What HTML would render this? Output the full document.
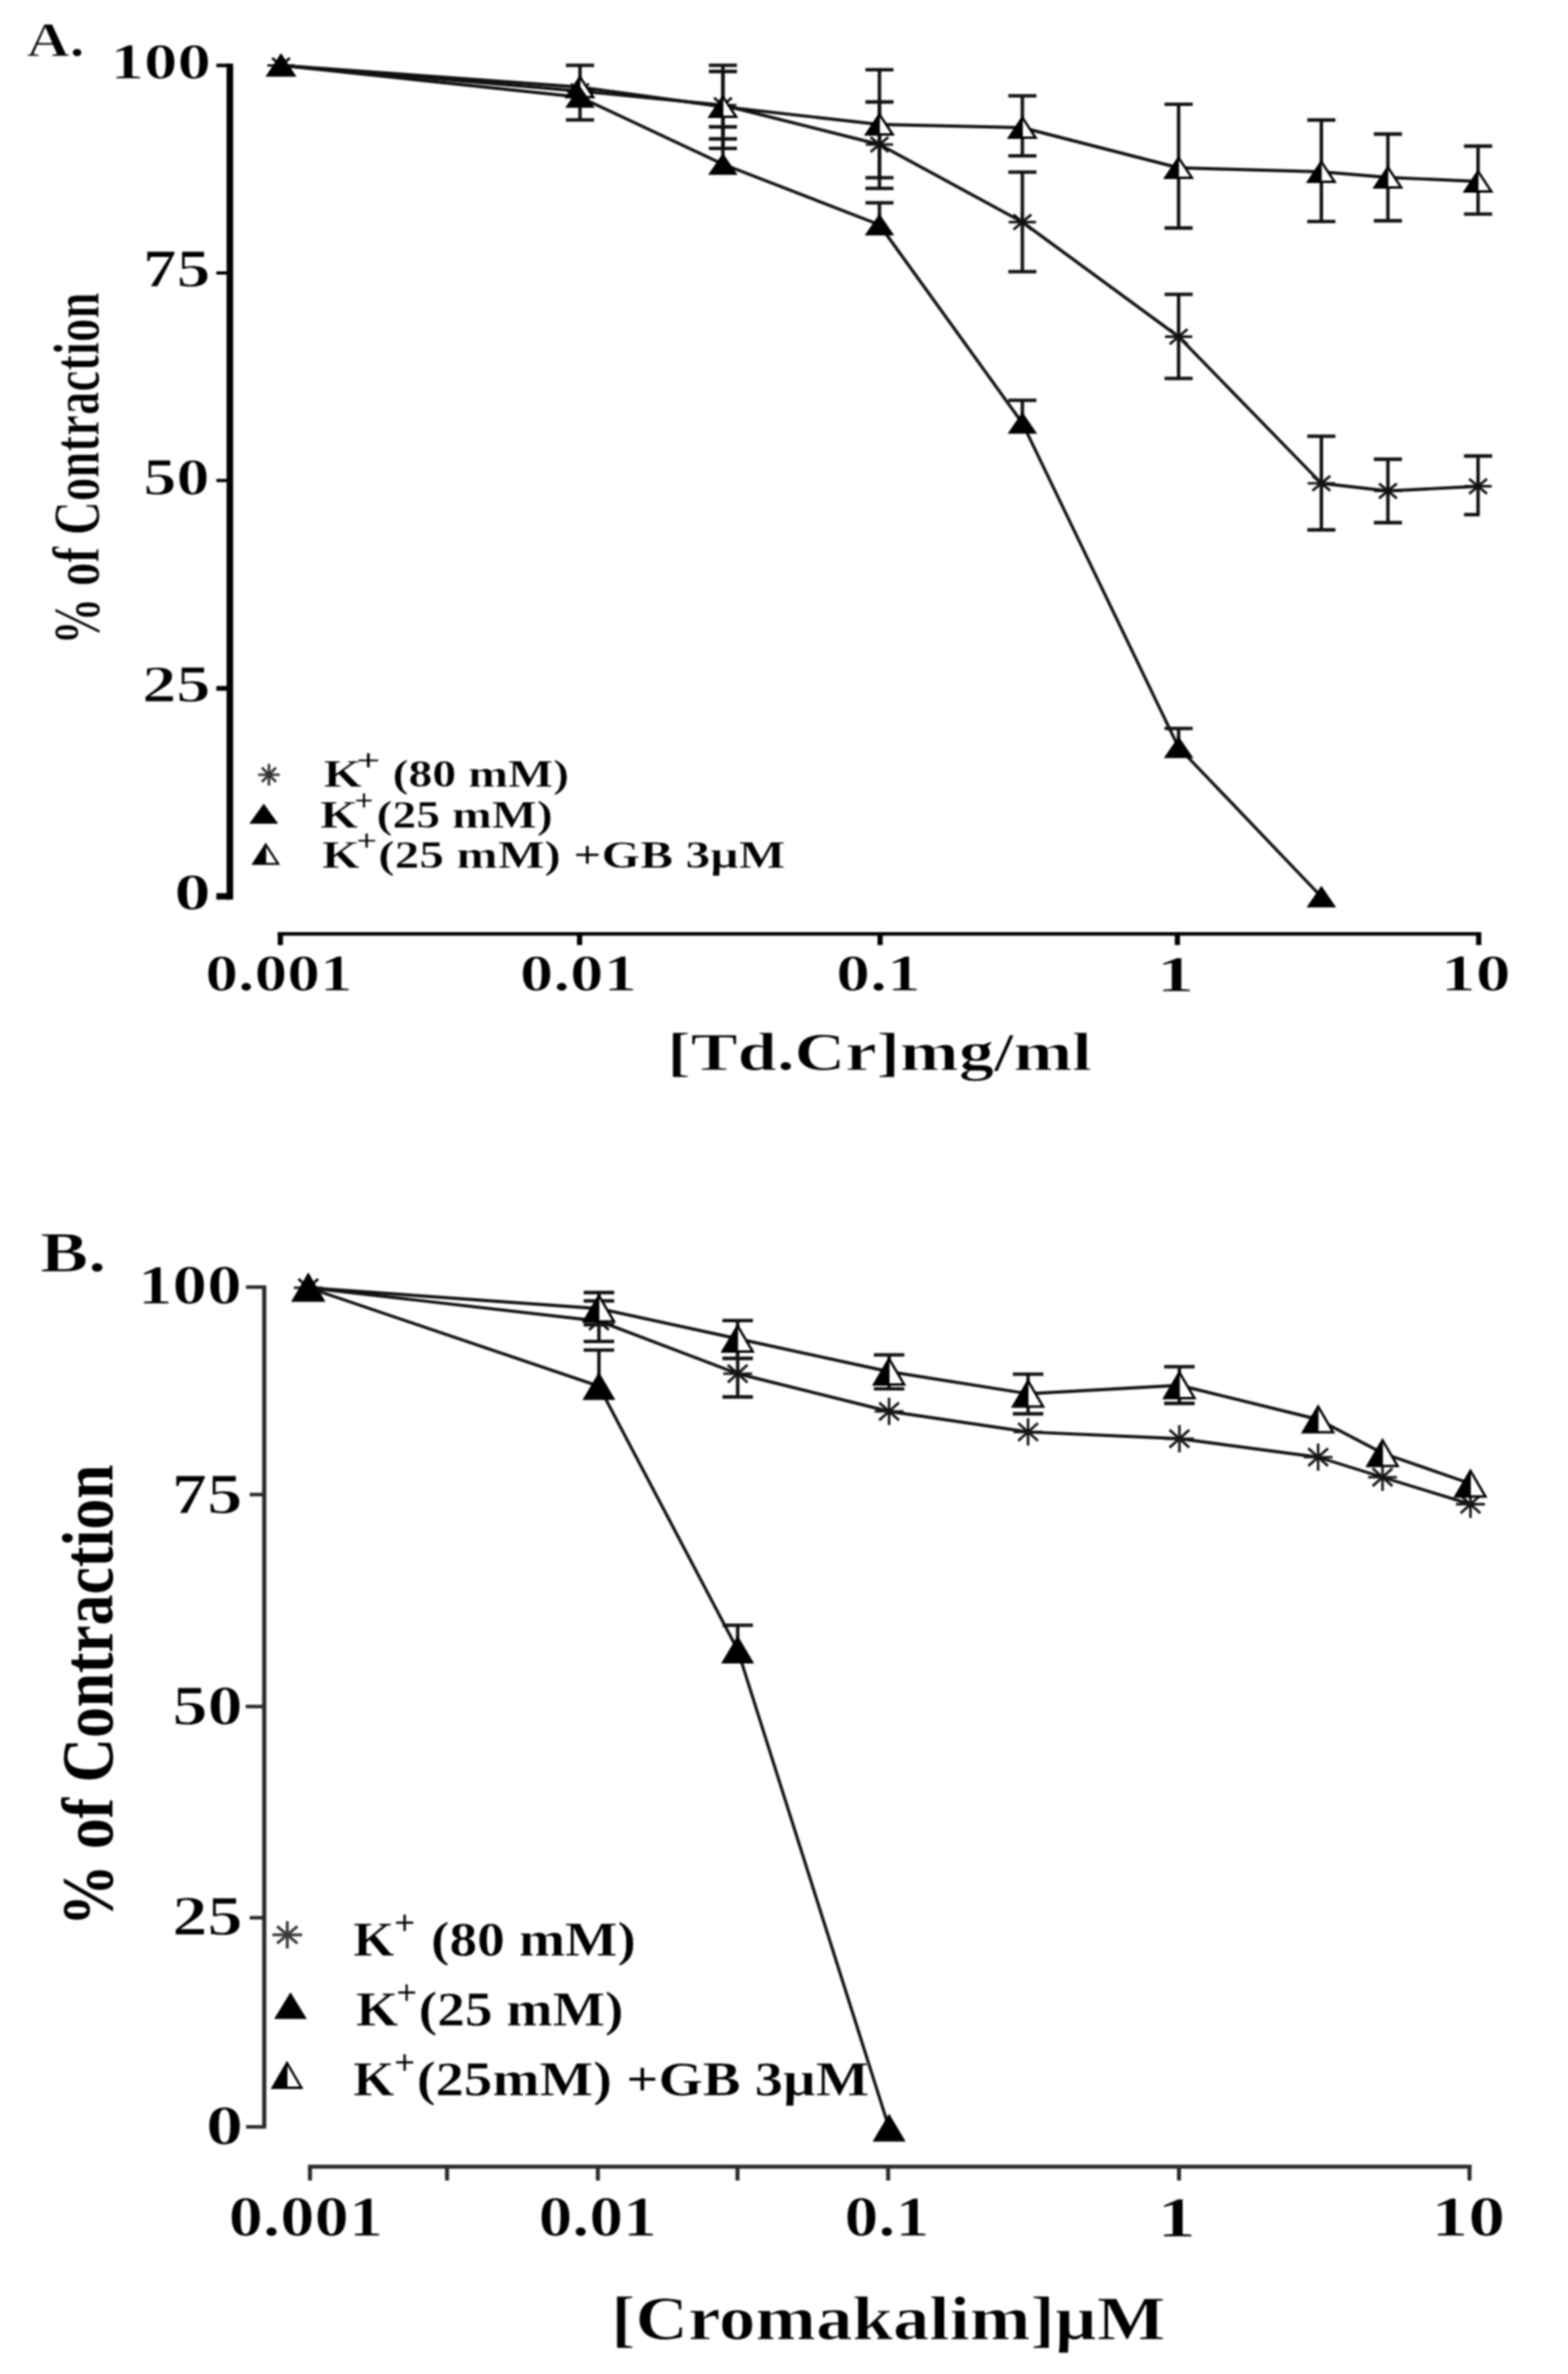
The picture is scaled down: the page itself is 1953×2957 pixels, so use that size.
<!DOCTYPE html>
<html lang="en"><head><meta charset="utf-8"><title>Figure</title>
<style>html,body{margin:0;padding:0;background:#fff}svg{display:block;filter:blur(0.9px)}</style></head>
<body>
<svg width="1953" height="2957" viewBox="0 0 1953 2957" font-family="'Liberation Serif', serif">
<rect width="1953" height="2957" fill="#fff"/>
<g id="chartA">
<path d="M286.3,79.3V1120.5" stroke="#000" stroke-width="8.2" fill="none"/>
<path d="M269.5,81.5H286" stroke="#000" stroke-width="4.4" fill="none"/>
<path d="M269.5,340H286" stroke="#000" stroke-width="4" fill="none"/>
<path d="M269.5,598.5H286" stroke="#000" stroke-width="4" fill="none"/>
<path d="M269.5,857.4H286" stroke="#000" stroke-width="6" fill="none"/>
<path d="M269.5,1116.5H286" stroke="#000" stroke-width="8" fill="none"/>
<path d="M345.8,1163.2H1845" stroke="#000" stroke-width="4.6" fill="none"/>
<path d="M349.2,1163V1177.2" stroke="#000" stroke-width="6.5" fill="none"/>
<path d="M721.9,1163V1177.2" stroke="#000" stroke-width="6.5" fill="none"/>
<path d="M1096.2,1163V1177.2" stroke="#000" stroke-width="6.5" fill="none"/>
<path d="M1466.5,1163V1177.2" stroke="#000" stroke-width="6.5" fill="none"/>
<path d="M1841.8,1163V1177.2" stroke="#000" stroke-width="6.5" fill="none"/>
<text x="137.4" y="97.9" font-size="63.7" font-weight="bold" text-anchor="start" fill="#000" stroke="#fff" stroke-width="1.0" textLength="125.4" lengthAdjust="spacingAndGlyphs">100</text>
<text x="178.0" y="357.4" font-size="66.8" font-weight="bold" text-anchor="start" fill="#000" stroke="#fff" stroke-width="1.0" textLength="84.1" lengthAdjust="spacingAndGlyphs">75</text>
<text x="178.5" y="615.5" font-size="65.9" font-weight="bold" text-anchor="start" fill="#000" stroke="#fff" stroke-width="1.0" textLength="82.5" lengthAdjust="spacingAndGlyphs">50</text>
<text x="176.9" y="874.4" font-size="66.5" font-weight="bold" text-anchor="start" fill="#000" stroke="#fff" stroke-width="1.0" textLength="85.4" lengthAdjust="spacingAndGlyphs">25</text>
<text x="217.1" y="1132.9" font-size="64.8" font-weight="bold" text-anchor="start" fill="#000" stroke="#fff" stroke-width="1.0" textLength="45.6" lengthAdjust="spacingAndGlyphs">0</text>
<text x="255.7" y="1233.9" font-size="64.7" font-weight="bold" text-anchor="start" fill="#000" stroke="#fff" stroke-width="1.0" textLength="183.7" lengthAdjust="spacingAndGlyphs">0.001</text>
<text x="647.6" y="1233.9" font-size="64.7" font-weight="bold" text-anchor="start" fill="#000" stroke="#fff" stroke-width="1.0" textLength="145.8" lengthAdjust="spacingAndGlyphs">0.01</text>
<text x="1041.6" y="1233.9" font-size="64.7" font-weight="bold" text-anchor="start" fill="#000" stroke="#fff" stroke-width="1.0" textLength="105.3" lengthAdjust="spacingAndGlyphs">0.1</text>
<text x="1440.2" y="1235.1" font-size="63.6" font-weight="bold" text-anchor="start" fill="#000" stroke="#fff" stroke-width="1.0" textLength="47.7" lengthAdjust="spacingAndGlyphs">1</text>
<text x="1794.4" y="1233.9" font-size="64.7" font-weight="bold" text-anchor="start" fill="#000" stroke="#fff" stroke-width="1.0" textLength="87.3" lengthAdjust="spacingAndGlyphs">10</text>
<text x="831.1" y="1333.0" font-size="68.0" font-weight="bold" text-anchor="start" fill="#000" stroke="#fff" stroke-width="1.0" textLength="528.8" lengthAdjust="spacingAndGlyphs">[Td.Cr]mg/ml</text>
<text x="33.2" y="70.4" font-size="61.9" font-weight="bold" text-anchor="start" fill="#000" stroke="#fff" stroke-width="1.0" textLength="72.0" lengthAdjust="spacingAndGlyphs">A.</text>
<text transform="translate(122.8,803.1) rotate(-90)" font-size="82.1" font-weight="bold" stroke="#fff" stroke-width="1.0" textLength="438.8" lengthAdjust="spacingAndGlyphs">% of Contraction</text>
<path d="M350.0,81.5L722.4,113.5L900.4,131.0L1095.4,180.0L1273.4,276.6L1468.0,419.4L1645.8,602.0L1728.7,611.5L1841.0,605.7" stroke="#111" stroke-width="3.9" fill="none" stroke-linejoin="round"/>
<path d="M350.0,81.5L722.4,108.5L900.4,133.0L1095.4,155.0L1273.4,159.0L1468.0,209.0L1645.8,214.0L1728.7,221.0L1841.0,226.0" stroke="#111" stroke-width="3.9" fill="none" stroke-linejoin="round"/>
<path d="M350.0,81.5L722.4,121.0L900.4,204.5L1095.4,280.0L1273.4,527.0L1468.0,931.0L1645.8,1117.0" stroke="#111" stroke-width="3.9" fill="none" stroke-linejoin="round"/>
<path d="M722.4,81.4V149.3" stroke="#111" stroke-width="4.3" fill="none"/>
<path d="M704.9,81.4H739.9" stroke="#111" stroke-width="4.3" fill="none"/>
<path d="M704.9,149.3H739.9" stroke="#111" stroke-width="4.3" fill="none"/>
<path d="M900.4,89.0V173.0" stroke="#111" stroke-width="4.3" fill="none"/>
<path d="M882.9,89.0H917.9" stroke="#111" stroke-width="4.3" fill="none"/>
<path d="M882.9,173.0H917.9" stroke="#111" stroke-width="4.3" fill="none"/>
<path d="M1095.4,127.0V234.7" stroke="#111" stroke-width="4.3" fill="none"/>
<path d="M1077.9,127.0H1112.9" stroke="#111" stroke-width="4.3" fill="none"/>
<path d="M1077.9,234.7H1112.9" stroke="#111" stroke-width="4.3" fill="none"/>
<path d="M1273.4,214.4V338.4" stroke="#111" stroke-width="4.3" fill="none"/>
<path d="M1255.9,214.4H1290.9" stroke="#111" stroke-width="4.3" fill="none"/>
<path d="M1255.9,338.4H1290.9" stroke="#111" stroke-width="4.3" fill="none"/>
<path d="M1468.0,366.6V471.3" stroke="#111" stroke-width="4.3" fill="none"/>
<path d="M1450.5,366.6H1485.5" stroke="#111" stroke-width="4.3" fill="none"/>
<path d="M1450.5,471.3H1485.5" stroke="#111" stroke-width="4.3" fill="none"/>
<path d="M1645.8,543.3V660.0" stroke="#111" stroke-width="4.3" fill="none"/>
<path d="M1628.3,543.3H1663.3" stroke="#111" stroke-width="4.3" fill="none"/>
<path d="M1628.3,660.0H1663.3" stroke="#111" stroke-width="4.3" fill="none"/>
<path d="M1728.7,572.0V651.0" stroke="#111" stroke-width="4.3" fill="none"/>
<path d="M1711.2,572.0H1746.2" stroke="#111" stroke-width="4.3" fill="none"/>
<path d="M1711.2,651.0H1746.2" stroke="#111" stroke-width="4.3" fill="none"/>
<path d="M1841.0,568.0V641.0" stroke="#111" stroke-width="4.3" fill="none"/>
<path d="M1823.5,568.0H1858.5" stroke="#111" stroke-width="4.3" fill="none"/>
<path d="M1823.5,641.0H1843.0" stroke="#111" stroke-width="4.3" fill="none"/>
<path d="M900.4,81.4V184.9" stroke="#111" stroke-width="4.3" fill="none"/>
<path d="M882.9,81.4H917.9" stroke="#111" stroke-width="4.3" fill="none"/>
<path d="M882.9,184.9H917.9" stroke="#111" stroke-width="4.3" fill="none"/>
<path d="M1095.4,86.9V221.3" stroke="#111" stroke-width="4.3" fill="none"/>
<path d="M1077.9,86.9H1112.9" stroke="#111" stroke-width="4.3" fill="none"/>
<path d="M1077.9,221.3H1112.9" stroke="#111" stroke-width="4.3" fill="none"/>
<path d="M1273.4,119.4V194.2" stroke="#111" stroke-width="4.3" fill="none"/>
<path d="M1255.9,119.4H1290.9" stroke="#111" stroke-width="4.3" fill="none"/>
<path d="M1255.9,194.2H1290.9" stroke="#111" stroke-width="4.3" fill="none"/>
<path d="M1468.0,129.8V284.0" stroke="#111" stroke-width="4.3" fill="none"/>
<path d="M1450.5,129.8H1485.5" stroke="#111" stroke-width="4.3" fill="none"/>
<path d="M1450.5,284.0H1485.5" stroke="#111" stroke-width="4.3" fill="none"/>
<path d="M1645.8,149.5V275.8" stroke="#111" stroke-width="4.3" fill="none"/>
<path d="M1628.3,149.5H1663.3" stroke="#111" stroke-width="4.3" fill="none"/>
<path d="M1628.3,275.8H1663.3" stroke="#111" stroke-width="4.3" fill="none"/>
<path d="M1728.7,167.0V275.0" stroke="#111" stroke-width="4.3" fill="none"/>
<path d="M1711.2,167.0H1746.2" stroke="#111" stroke-width="4.3" fill="none"/>
<path d="M1711.2,275.0H1746.2" stroke="#111" stroke-width="4.3" fill="none"/>
<path d="M1841.0,182.0V266.7" stroke="#111" stroke-width="4.3" fill="none"/>
<path d="M1823.5,182.0H1858.5" stroke="#111" stroke-width="4.3" fill="none"/>
<path d="M1823.5,266.7H1858.5" stroke="#111" stroke-width="4.3" fill="none"/>
<path d="M900.4,158.0V204.5" stroke="#111" stroke-width="4.3" fill="none"/>
<path d="M882.9,158.0H917.9" stroke="#111" stroke-width="4.3" fill="none"/>
<path d="M1095.4,252.7V280.0" stroke="#111" stroke-width="4.3" fill="none"/>
<path d="M1077.9,252.7H1112.9" stroke="#111" stroke-width="4.3" fill="none"/>
<path d="M1273.4,498.6V527.0" stroke="#111" stroke-width="4.3" fill="none"/>
<path d="M1255.9,498.6H1290.9" stroke="#111" stroke-width="4.3" fill="none"/>
<path d="M1468.0,907.4V931.0" stroke="#111" stroke-width="4.3" fill="none"/>
<path d="M1450.5,907.4H1485.5" stroke="#111" stroke-width="4.3" fill="none"/>
<path d="M333.0,81.5H367.0M350.0,68.0V95.0M338.9,72.2L361.1,90.8M338.9,90.8L361.1,72.2" stroke="#111" stroke-width="3.2" fill="none"/>
<path d="M705.4,113.5H739.4M722.4,100.0V127.0M711.3,104.2L733.5,122.8M711.3,122.8L733.5,104.2" stroke="#111" stroke-width="3.2" fill="none"/>
<path d="M883.4,131.0H917.4M900.4,117.5V144.5M889.3,121.7L911.5,140.3M889.3,140.3L911.5,121.7" stroke="#111" stroke-width="3.2" fill="none"/>
<path d="M1078.4,180.0H1112.4M1095.4,166.5V193.5M1084.3,170.7L1106.5,189.3M1084.3,189.3L1106.5,170.7" stroke="#111" stroke-width="3.2" fill="none"/>
<path d="M1256.4,276.6H1290.4M1273.4,263.1V290.1M1262.3,267.3L1284.5,285.9M1262.3,285.9L1284.5,267.3" stroke="#111" stroke-width="3.2" fill="none"/>
<path d="M1451.0,419.4H1485.0M1468.0,405.9V432.9M1456.9,410.1L1479.1,428.7M1456.9,428.7L1479.1,410.1" stroke="#111" stroke-width="3.2" fill="none"/>
<path d="M1628.8,602.0H1662.8M1645.8,588.5V615.5M1634.7,592.7L1656.9,611.3M1634.7,611.3L1656.9,592.7" stroke="#111" stroke-width="3.2" fill="none"/>
<path d="M1711.7,611.5H1745.7M1728.7,598.0V625.0M1717.6,602.2L1739.8,620.8M1717.6,620.8L1739.8,602.2" stroke="#111" stroke-width="3.2" fill="none"/>
<path d="M1824.0,605.7H1858.0M1841.0,592.2V619.2M1829.9,596.4L1852.1,615.0M1829.9,615.0L1852.1,596.4" stroke="#111" stroke-width="3.2" fill="none"/>
<polygon points="333.5,94.0 366.5,94.0 350.0,69.0" fill="#fff" stroke="#000" stroke-width="3.0" stroke-linejoin="miter"/>
<polygon points="333.5,94.0 350.0,94.0 350.0,69.0" fill="#000" stroke="#000" stroke-width="1"/>
<polygon points="705.9,121.0 738.9,121.0 722.4,96.0" fill="#fff" stroke="#000" stroke-width="3.0" stroke-linejoin="miter"/>
<polygon points="705.9,121.0 722.4,121.0 722.4,96.0" fill="#000" stroke="#000" stroke-width="1"/>
<polygon points="883.9,145.5 916.9,145.5 900.4,120.5" fill="#fff" stroke="#000" stroke-width="3.0" stroke-linejoin="miter"/>
<polygon points="883.9,145.5 900.4,145.5 900.4,120.5" fill="#000" stroke="#000" stroke-width="1"/>
<polygon points="1078.9,167.5 1111.9,167.5 1095.4,142.5" fill="#fff" stroke="#000" stroke-width="3.0" stroke-linejoin="miter"/>
<polygon points="1078.9,167.5 1095.4,167.5 1095.4,142.5" fill="#000" stroke="#000" stroke-width="1"/>
<polygon points="1256.9,171.5 1289.9,171.5 1273.4,146.5" fill="#fff" stroke="#000" stroke-width="3.0" stroke-linejoin="miter"/>
<polygon points="1256.9,171.5 1273.4,171.5 1273.4,146.5" fill="#000" stroke="#000" stroke-width="1"/>
<polygon points="1451.5,221.5 1484.5,221.5 1468.0,196.5" fill="#fff" stroke="#000" stroke-width="3.0" stroke-linejoin="miter"/>
<polygon points="1451.5,221.5 1468.0,221.5 1468.0,196.5" fill="#000" stroke="#000" stroke-width="1"/>
<polygon points="1629.3,226.5 1662.3,226.5 1645.8,201.5" fill="#fff" stroke="#000" stroke-width="3.0" stroke-linejoin="miter"/>
<polygon points="1629.3,226.5 1645.8,226.5 1645.8,201.5" fill="#000" stroke="#000" stroke-width="1"/>
<polygon points="1712.2,233.5 1745.2,233.5 1728.7,208.5" fill="#fff" stroke="#000" stroke-width="3.0" stroke-linejoin="miter"/>
<polygon points="1712.2,233.5 1728.7,233.5 1728.7,208.5" fill="#000" stroke="#000" stroke-width="1"/>
<polygon points="1824.5,238.5 1857.5,238.5 1841.0,213.5" fill="#fff" stroke="#000" stroke-width="3.0" stroke-linejoin="miter"/>
<polygon points="1824.5,238.5 1841.0,238.5 1841.0,213.5" fill="#000" stroke="#000" stroke-width="1"/>
<polygon points="333.0,94.0 367.0,94.0 350.0,69.0" fill="#000" stroke="#000" stroke-width="1.5" stroke-linejoin="miter"/>
<polygon points="705.4,133.5 739.4,133.5 722.4,108.5" fill="#000" stroke="#000" stroke-width="1.5" stroke-linejoin="miter"/>
<polygon points="883.4,217.0 917.4,217.0 900.4,192.0" fill="#000" stroke="#000" stroke-width="1.5" stroke-linejoin="miter"/>
<polygon points="1078.4,292.5 1112.4,292.5 1095.4,267.5" fill="#000" stroke="#000" stroke-width="1.5" stroke-linejoin="miter"/>
<polygon points="1256.4,539.5 1290.4,539.5 1273.4,514.5" fill="#000" stroke="#000" stroke-width="1.5" stroke-linejoin="miter"/>
<polygon points="1451.0,943.5 1485.0,943.5 1468.0,918.5" fill="#000" stroke="#000" stroke-width="1.5" stroke-linejoin="miter"/>
<polygon points="1628.8,1129.5 1662.8,1129.5 1645.8,1104.5" fill="#000" stroke="#000" stroke-width="1.5" stroke-linejoin="miter"/>
<path d="M321.5,965.0H348.5M335.0,951.5V978.5M326.2,956.2L343.8,973.8M326.2,973.8L343.8,956.2" stroke="#333" stroke-width="3.2" fill="none"/>
<polygon points="312.0,1025.2 345.0,1025.2 328.5,1002.2" fill="#000" stroke="#000" stroke-width="1.5" stroke-linejoin="miter"/>
<polygon points="315.5,1076.0 346.5,1076.0 331.0,1052.0" fill="#fff" stroke="#000" stroke-width="2.6" stroke-linejoin="miter"/>
<polygon points="315.5,1076.0 331.0,1076.0 331.0,1052.0" fill="#000" stroke="#000" stroke-width="1"/>
<text font-weight="bold" font-size="49" stroke="#fff" stroke-width="0.5"><tspan x="403.0" y="980" textLength="47.7" lengthAdjust="spacingAndGlyphs">K</tspan><tspan x="444.5" y="958.5" font-size="36" font-weight="normal" stroke="#000" stroke-width="0.6" textLength="28.5" lengthAdjust="spacingAndGlyphs">+</tspan><tspan x="489.0" y="980" textLength="219.8" lengthAdjust="spacingAndGlyphs">(80 mM)</tspan></text>
<text font-weight="bold" font-size="49" stroke="#fff" stroke-width="0.5"><tspan x="398.7" y="1030.5" textLength="47.3" lengthAdjust="spacingAndGlyphs">K</tspan><tspan x="442.0" y="1008.5" font-size="36" font-weight="normal" stroke="#000" stroke-width="0.6" textLength="22.5" lengthAdjust="spacingAndGlyphs">+</tspan><tspan x="468.9" y="1030.5" textLength="219.6" lengthAdjust="spacingAndGlyphs">(25 mM)</tspan></text>
<text font-weight="bold" font-size="49" stroke="#fff" stroke-width="0.5"><tspan x="401.0" y="1080.5" textLength="47.0" lengthAdjust="spacingAndGlyphs">K</tspan><tspan x="444.5" y="1058.5" font-size="36" font-weight="normal" stroke="#000" stroke-width="0.6" textLength="24.5" lengthAdjust="spacingAndGlyphs">+</tspan><tspan x="471.0" y="1080.5" textLength="507.2" lengthAdjust="spacingAndGlyphs">(25 mM) +GB 3µM</tspan></text>
</g>
<g id="chartB">
<path d="M329.1,1601V2651.3" stroke="#2a2a2a" stroke-width="5.2" fill="none"/>
<path d="M306.4,1603.2H329" stroke="#2a2a2a" stroke-width="4.4" fill="none"/>
<path d="M311,1861.6H329" stroke="#2a2a2a" stroke-width="4.4" fill="none"/>
<path d="M306,2125.6H329" stroke="#2a2a2a" stroke-width="4.4" fill="none"/>
<path d="M311,2388.7H329" stroke="#2a2a2a" stroke-width="4.4" fill="none"/>
<path d="M306.5,2649.2H329" stroke="#2a2a2a" stroke-width="4.4" fill="none"/>
<path d="M383.7,2698.7H1833" stroke="#2a2a2a" stroke-width="5" fill="none"/>
<path d="M386.1,2698.7V2716" stroke="#2a2a2a" stroke-width="5" fill="none"/>
<path d="M556.8,2698.7V2716" stroke="#2a2a2a" stroke-width="5" fill="none"/>
<path d="M744.7,2698.7V2716" stroke="#2a2a2a" stroke-width="5" fill="none"/>
<path d="M918.6,2698.7V2716" stroke="#2a2a2a" stroke-width="5" fill="none"/>
<path d="M1106.2,2698.7V2716" stroke="#2a2a2a" stroke-width="5" fill="none"/>
<path d="M1468.5,2698.7V2716" stroke="#2a2a2a" stroke-width="5" fill="none"/>
<path d="M1830.3,2698.7V2716" stroke="#2a2a2a" stroke-width="5" fill="none"/>
<text x="171.7" y="1624.0" font-size="70.6" font-weight="bold" text-anchor="start" fill="#000" stroke="#fff" stroke-width="1.0" textLength="129.5" lengthAdjust="spacingAndGlyphs">100</text>
<text x="214.1" y="1885.0" font-size="72.3" font-weight="bold" text-anchor="start" fill="#000" stroke="#fff" stroke-width="1.0" textLength="87.7" lengthAdjust="spacingAndGlyphs">75</text>
<text x="214.8" y="2147.5" font-size="70.8" font-weight="bold" text-anchor="start" fill="#000" stroke="#fff" stroke-width="1.0" textLength="87.6" lengthAdjust="spacingAndGlyphs">50</text>
<text x="214.4" y="2409.5" font-size="70.6" font-weight="bold" text-anchor="start" fill="#000" stroke="#fff" stroke-width="1.0" textLength="87.9" lengthAdjust="spacingAndGlyphs">25</text>
<text x="256.5" y="2671.0" font-size="70.8" font-weight="bold" text-anchor="start" fill="#000" stroke="#fff" stroke-width="1.0" textLength="46.4" lengthAdjust="spacingAndGlyphs">0</text>
<text x="284.8" y="2784.5" font-size="72.0" font-weight="bold" text-anchor="start" fill="#000" stroke="#fff" stroke-width="1.0" textLength="192.4" lengthAdjust="spacingAndGlyphs">0.001</text>
<text x="670.7" y="2784.5" font-size="72.0" font-weight="bold" text-anchor="start" fill="#000" stroke="#fff" stroke-width="1.0" textLength="147.6" lengthAdjust="spacingAndGlyphs">0.01</text>
<text x="1051.8" y="2784.5" font-size="72.0" font-weight="bold" text-anchor="start" fill="#000" stroke="#fff" stroke-width="1.0" textLength="105.8" lengthAdjust="spacingAndGlyphs">0.1</text>
<text x="1441.3" y="2785.5" font-size="72.9" font-weight="bold" text-anchor="start" fill="#000" stroke="#fff" stroke-width="1.0" textLength="48.5" lengthAdjust="spacingAndGlyphs">1</text>
<text x="1782.7" y="2784.5" font-size="72.0" font-weight="bold" text-anchor="start" fill="#000" stroke="#fff" stroke-width="1.0" textLength="92.0" lengthAdjust="spacingAndGlyphs">10</text>
<text x="761.2" y="2914.3" font-size="77.5" font-weight="bold" text-anchor="start" fill="#000" stroke="#fff" stroke-width="1.0" textLength="690.4" lengthAdjust="spacingAndGlyphs">[Cromakalim]µM</text>
<text x="49.9" y="1583.5" font-size="71.1" font-weight="bold" text-anchor="start" fill="#000" stroke="#fff" stroke-width="1.0" textLength="82.2" lengthAdjust="spacingAndGlyphs">B.</text>
<text transform="translate(140.4,2399.0) rotate(-90)" font-size="91.1" font-weight="bold" textLength="574.7" lengthAdjust="spacingAndGlyphs">% of Contraction</text>
<path d="M384.0,1604.0L746.0,1645.5L918.8,1711.0L1107.4,1758.0L1280.5,1783.6L1469.0,1792.0L1641.8,1815.0L1722.0,1840.0L1831.5,1873.7" stroke="#111" stroke-width="3.9" fill="none" stroke-linejoin="round"/>
<path d="M384.0,1604.0L746.0,1630.0L918.8,1667.5L1107.4,1708.5L1280.5,1736.0L1469.0,1725.5L1641.8,1768.0L1722.0,1810.0L1831.5,1848.0" stroke="#111" stroke-width="3.9" fill="none" stroke-linejoin="round"/>
<path d="M384.0,1604.0L746.0,1726.7L918.8,2055.0L1107.4,2650.5" stroke="#111" stroke-width="3.9" fill="none" stroke-linejoin="round"/>
<path d="M746.0,1620.3V1670.8" stroke="#111" stroke-width="4.3" fill="none"/>
<path d="M727.0,1620.3H765.0" stroke="#111" stroke-width="4.3" fill="none"/>
<path d="M727.0,1670.8H765.0" stroke="#111" stroke-width="4.3" fill="none"/>
<path d="M918.8,1682.0V1740.0" stroke="#111" stroke-width="4.3" fill="none"/>
<path d="M899.8,1682.0H937.8" stroke="#111" stroke-width="4.3" fill="none"/>
<path d="M899.8,1740.0H937.8" stroke="#111" stroke-width="4.3" fill="none"/>
<path d="M746.0,1610.0V1650.0" stroke="#111" stroke-width="4.3" fill="none"/>
<path d="M727.0,1610.0H765.0" stroke="#111" stroke-width="4.3" fill="none"/>
<path d="M727.0,1650.0H765.0" stroke="#111" stroke-width="4.3" fill="none"/>
<path d="M918.8,1644.8V1692.0" stroke="#111" stroke-width="4.3" fill="none"/>
<path d="M899.8,1644.8H937.8" stroke="#111" stroke-width="4.3" fill="none"/>
<path d="M899.8,1692.0H937.8" stroke="#111" stroke-width="4.3" fill="none"/>
<path d="M1107.4,1687.7V1729.8" stroke="#111" stroke-width="4.3" fill="none"/>
<path d="M1088.4,1687.7H1126.4" stroke="#111" stroke-width="4.3" fill="none"/>
<path d="M1088.4,1729.8H1126.4" stroke="#111" stroke-width="4.3" fill="none"/>
<path d="M1280.5,1711.7V1761.0" stroke="#111" stroke-width="4.3" fill="none"/>
<path d="M1261.5,1711.7H1299.5" stroke="#111" stroke-width="4.3" fill="none"/>
<path d="M1261.5,1761.0H1299.5" stroke="#111" stroke-width="4.3" fill="none"/>
<path d="M1469.0,1702.3V1748.0" stroke="#111" stroke-width="4.3" fill="none"/>
<path d="M1450.0,1702.3H1488.0" stroke="#111" stroke-width="4.3" fill="none"/>
<path d="M1450.0,1748.0H1488.0" stroke="#111" stroke-width="4.3" fill="none"/>
<path d="M746.0,1681.7V1726.7" stroke="#111" stroke-width="4.3" fill="none"/>
<path d="M727.0,1681.7H765.0" stroke="#111" stroke-width="4.3" fill="none"/>
<path d="M918.8,2024.3V2055.0" stroke="#111" stroke-width="4.3" fill="none"/>
<path d="M899.8,2024.3H937.8" stroke="#111" stroke-width="4.3" fill="none"/>
<path d="M366.0,1604.0H402.0M384.0,1587.0V1621.0M371.7,1593.0L396.3,1615.0M371.7,1615.0L396.3,1593.0" stroke="#151515" stroke-width="3.2" fill="none"/>
<path d="M728.0,1645.5H764.0M746.0,1628.5V1662.5M733.7,1634.5L758.3,1656.5M733.7,1656.5L758.3,1634.5" stroke="#151515" stroke-width="3.2" fill="none"/>
<path d="M900.8,1711.0H936.8M918.8,1694.0V1728.0M906.5,1700.0L931.1,1722.0M906.5,1722.0L931.1,1700.0" stroke="#151515" stroke-width="3.2" fill="none"/>
<path d="M1089.4,1758.0H1125.4M1107.4,1741.0V1775.0M1095.1,1747.0L1119.7,1769.0M1095.1,1769.0L1119.7,1747.0" stroke="#151515" stroke-width="3.2" fill="none"/>
<path d="M1262.5,1783.6H1298.5M1280.5,1766.6V1800.6M1268.2,1772.6L1292.8,1794.6M1268.2,1794.6L1292.8,1772.6" stroke="#151515" stroke-width="3.2" fill="none"/>
<path d="M1451.0,1792.0H1487.0M1469.0,1775.0V1809.0M1456.7,1781.0L1481.3,1803.0M1456.7,1803.0L1481.3,1781.0" stroke="#151515" stroke-width="3.2" fill="none"/>
<path d="M1623.8,1815.0H1659.8M1641.8,1798.0V1832.0M1629.5,1804.0L1654.1,1826.0M1629.5,1826.0L1654.1,1804.0" stroke="#151515" stroke-width="3.2" fill="none"/>
<path d="M1704.0,1840.0H1740.0M1722.0,1823.0V1857.0M1709.7,1829.0L1734.3,1851.0M1709.7,1851.0L1734.3,1829.0" stroke="#151515" stroke-width="3.2" fill="none"/>
<path d="M1813.5,1873.7H1849.5M1831.5,1856.7V1890.7M1819.2,1862.7L1843.8,1884.7M1819.2,1884.7L1843.8,1862.7" stroke="#151515" stroke-width="3.2" fill="none"/>
<polygon points="365.2,1620.0 402.8,1620.0 384.0,1588.0" fill="#fff" stroke="#000" stroke-width="3.0" stroke-linejoin="miter"/>
<polygon points="365.2,1620.0 384.0,1620.0 384.0,1588.0" fill="#000" stroke="#000" stroke-width="1"/>
<polygon points="727.2,1646.0 764.8,1646.0 746.0,1614.0" fill="#fff" stroke="#000" stroke-width="3.0" stroke-linejoin="miter"/>
<polygon points="727.2,1646.0 746.0,1646.0 746.0,1614.0" fill="#000" stroke="#000" stroke-width="1"/>
<polygon points="900.0,1683.5 937.5,1683.5 918.8,1651.5" fill="#fff" stroke="#000" stroke-width="3.0" stroke-linejoin="miter"/>
<polygon points="900.0,1683.5 918.8,1683.5 918.8,1651.5" fill="#000" stroke="#000" stroke-width="1"/>
<polygon points="1088.7,1724.5 1126.2,1724.5 1107.4,1692.5" fill="#fff" stroke="#000" stroke-width="3.0" stroke-linejoin="miter"/>
<polygon points="1088.7,1724.5 1107.4,1724.5 1107.4,1692.5" fill="#000" stroke="#000" stroke-width="1"/>
<polygon points="1261.8,1752.0 1299.2,1752.0 1280.5,1720.0" fill="#fff" stroke="#000" stroke-width="3.0" stroke-linejoin="miter"/>
<polygon points="1261.8,1752.0 1280.5,1752.0 1280.5,1720.0" fill="#000" stroke="#000" stroke-width="1"/>
<polygon points="1450.2,1741.5 1487.8,1741.5 1469.0,1709.5" fill="#fff" stroke="#000" stroke-width="3.0" stroke-linejoin="miter"/>
<polygon points="1450.2,1741.5 1469.0,1741.5 1469.0,1709.5" fill="#000" stroke="#000" stroke-width="1"/>
<polygon points="1623.0,1784.0 1660.5,1784.0 1641.8,1752.0" fill="#fff" stroke="#000" stroke-width="3.0" stroke-linejoin="miter"/>
<polygon points="1623.0,1784.0 1641.8,1784.0 1641.8,1752.0" fill="#000" stroke="#000" stroke-width="1"/>
<polygon points="1703.2,1826.0 1740.8,1826.0 1722.0,1794.0" fill="#fff" stroke="#000" stroke-width="3.0" stroke-linejoin="miter"/>
<polygon points="1703.2,1826.0 1722.0,1826.0 1722.0,1794.0" fill="#000" stroke="#000" stroke-width="1"/>
<polygon points="1812.8,1864.0 1850.2,1864.0 1831.5,1832.0" fill="#fff" stroke="#000" stroke-width="3.0" stroke-linejoin="miter"/>
<polygon points="1812.8,1864.0 1831.5,1864.0 1831.5,1832.0" fill="#000" stroke="#000" stroke-width="1"/>
<polygon points="364.8,1620.2 403.2,1620.2 384.0,1587.8" fill="#000" stroke="#000" stroke-width="1.5" stroke-linejoin="miter"/>
<polygon points="726.8,1743.0 765.2,1743.0 746.0,1710.5" fill="#000" stroke="#000" stroke-width="1.5" stroke-linejoin="miter"/>
<polygon points="899.5,2071.2 938.0,2071.2 918.8,2038.8" fill="#000" stroke="#000" stroke-width="1.5" stroke-linejoin="miter"/>
<polygon points="1088.2,2666.8 1126.7,2666.8 1107.4,2634.2" fill="#000" stroke="#000" stroke-width="1.5" stroke-linejoin="miter"/>
<path d="M339.3,2410.0H376.3M357.8,2393.0V2427.0M345.2,2399.4L370.4,2420.6M345.2,2420.6L370.4,2399.4" stroke="#3a3a3a" stroke-width="3.6" fill="none"/>
<polygon points="342.8,2514.0 380.8,2514.0 361.8,2483.0" fill="#000" stroke="#000" stroke-width="1.5" stroke-linejoin="miter"/>
<polygon points="339.5,2600.5 375.5,2600.5 357.5,2569.5" fill="#fff" stroke="#000" stroke-width="2.8" stroke-linejoin="miter"/>
<polygon points="339.5,2600.5 357.5,2600.5 357.5,2569.5" fill="#000" stroke="#000" stroke-width="1"/>
<text font-weight="bold" font-size="61.5" stroke="#fff" stroke-width="0.5"><tspan x="440.0" y="2435.5" textLength="51.0" lengthAdjust="spacingAndGlyphs">K</tspan><tspan x="491.5" y="2408.5" font-size="42" font-weight="normal" stroke="#000" stroke-width="0.6" textLength="25.0" lengthAdjust="spacingAndGlyphs">+</tspan><tspan x="536.8" y="2435.5" textLength="255.2" lengthAdjust="spacingAndGlyphs">(80 mM)</tspan></text>
<text font-weight="bold" font-size="61.5" stroke="#fff" stroke-width="0.5"><tspan x="443.5" y="2523" textLength="52.5" lengthAdjust="spacingAndGlyphs">K</tspan><tspan x="494.0" y="2496" font-size="42" font-weight="normal" stroke="#000" stroke-width="0.6" textLength="25.0" lengthAdjust="spacingAndGlyphs">+</tspan><tspan x="521.5" y="2523" textLength="255.1" lengthAdjust="spacingAndGlyphs">(25 mM)</tspan></text>
<text font-weight="bold" font-size="61.5" stroke="#fff" stroke-width="0.5"><tspan x="440.0" y="2610" textLength="51.0" lengthAdjust="spacingAndGlyphs">K</tspan><tspan x="491.5" y="2583" font-size="42" font-weight="normal" stroke="#000" stroke-width="0.6" textLength="25.0" lengthAdjust="spacingAndGlyphs">+</tspan><tspan x="519.0" y="2610" textLength="563.8" lengthAdjust="spacingAndGlyphs">(25mM) +GB 3µM</tspan></text>
</g>
</svg>
</body></html>
